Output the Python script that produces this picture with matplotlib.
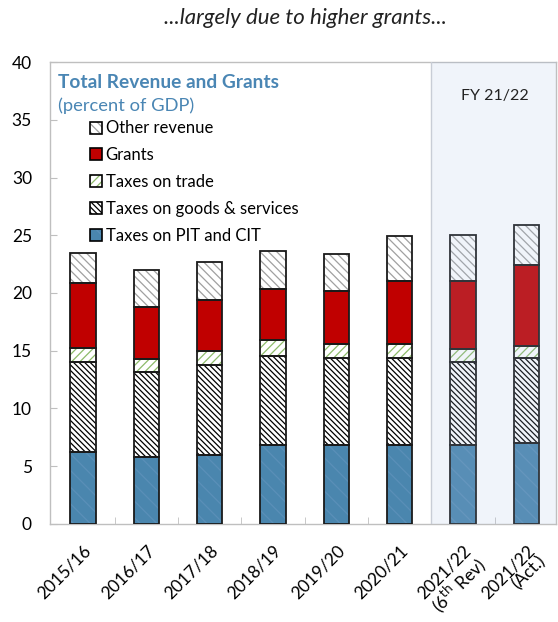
import matplotlib
matplotlib.use("Agg")
import matplotlib.pyplot as plt
from matplotlib.patches import Patch
from matplotlib.legend_handler import HandlerTuple
import numpy as np

plt.rcParams['font.family'] = ['Lato', 'DejaVu Sans']
plt.rcParams['hatch.linewidth'] = 0.9

categories = ["2015/16", "2016/17", "2017/18", "2018/19", "2019/20", "2020/21",
              "2021/22\n(6$^{\\rm th}$ Rev)", "2021/22\n(Act.)"]
pit_cit = [6.2, 5.8, 6.0, 6.8, 6.8, 6.8, 6.85, 7.05]
goods_services = [7.85, 7.35, 7.75, 7.75, 7.6, 7.6, 7.2, 7.3]
trade = [1.2, 1.1, 1.2, 1.35, 1.2, 1.15, 1.1, 1.1]
grants = [5.65, 4.55, 4.4, 4.45, 4.55, 5.45, 5.85, 6.95]
other_revenue = [2.6, 3.2, 3.35, 3.25, 3.2, 3.95, 4.0, 3.5]

series_names = ["Taxes on PIT and CIT", "Taxes on goods & services", "Taxes on trade",
                "Grants", "Other revenue"]

fig = plt.figure(figsize=(5.58, 6.22), dpi=100)
ax = fig.add_axes([0.0896, 0.1576, 0.907, 0.7427])

x = np.arange(len(categories))
w = 0.4
styles = [
    dict(face='#4A86AE', hatch='\\\\', hcol='#5A8FB8'),
    dict(face='white', hatch='\\' * 6, hcol='black'),
    dict(face='white', hatch='/' * 4, hcol='#8DBB6A'),
    dict(face='#C00000', hatch=None, hcol='#C00000'),
    dict(face='white', hatch='\\' * 4, hcol='#A0A0A0'),
]
data = [pit_cit, goods_services, trade, grants, other_revenue]
bottom = np.zeros(len(categories))
handles = []
for vals, st, name in zip(data, styles, series_names):
    vals = np.array(vals)
    ax.bar(x, vals, w, bottom=bottom, color=st['face'], hatch=st['hatch'],
           edgecolor=st['hcol'], linewidth=0, zorder=2)
    ax.bar(x, vals, w, bottom=bottom, fill=False, edgecolor='#1a1a1a',
           linewidth=1.3, zorder=3)
    bottom += vals
    handles.append((Patch(facecolor=st['face'], hatch=st['hatch'], edgecolor=st['hcol'], linewidth=0),
                    Patch(fill=False, edgecolor='black', linewidth=1.2)))

ax.axvspan(5.5, 7.5, color=(165/255, 188/255, 225/255), alpha=0.16, linewidth=0, zorder=4)
ax.axvline(5.5, color='#C8CDD6', lw=1, zorder=4)

ax.set_xlim(-0.52, 7.47)
ax.set_ylim(0, 40)
ax.set_yticks(range(0, 41, 5))
ax.set_xticks(x)
ax.set_xticklabels(categories, rotation=45, ha='right', va='top', rotation_mode='anchor',
                   fontsize=12.5, linespacing=0.95)
ax.tick_params(axis='x', length=0, pad=13)
ax.set_xticks(np.arange(0.5, 7, 1), minor=True)
ax.tick_params(axis='x', which='minor', direction='in', length=5, color='#BFBFBF')
ax.tick_params(axis='y', direction='in', length=5, color='#BFBFBF', labelsize=12.5, pad=13)
for sp in ax.spines.values():
    sp.set_color('#BFBFBF')
    sp.set_linewidth(1)

blue = '#4A86B4'
ax.text(0.015, 0.955, "Total Revenue and Grants", transform=ax.transAxes, fontsize=13.8,
        fontweight='bold', color=blue, va='center', ha='left')
ax.text(0.015, 0.905, "(percent of GDP)", transform=ax.transAxes, fontsize=13.2,
        color=blue, va='center', ha='left')
ax.text(6.5, 37.1, "FY 21/22", fontsize=11.5, ha='center', va='center', color='#222222', zorder=5)

rev_handles = handles[::-1]
rev_names = series_names[::-1]
leg = ax.legend(rev_handles, rev_names, loc='upper left', bbox_to_anchor=(0.065, 0.888),
                frameon=False, fontsize=12, handlelength=0.72, handleheight=0.72,
                handletextpad=0.25, labelspacing=0.65, borderaxespad=0,
                handler_map={tuple: HandlerTuple(ndivide=1)})

fig.text(0.547, 0.971, "...largely due to higher grants...", fontsize=16, style='italic',
         ha='center', va='center', color='#222222')

fig.savefig("out.png", dpi=100)
